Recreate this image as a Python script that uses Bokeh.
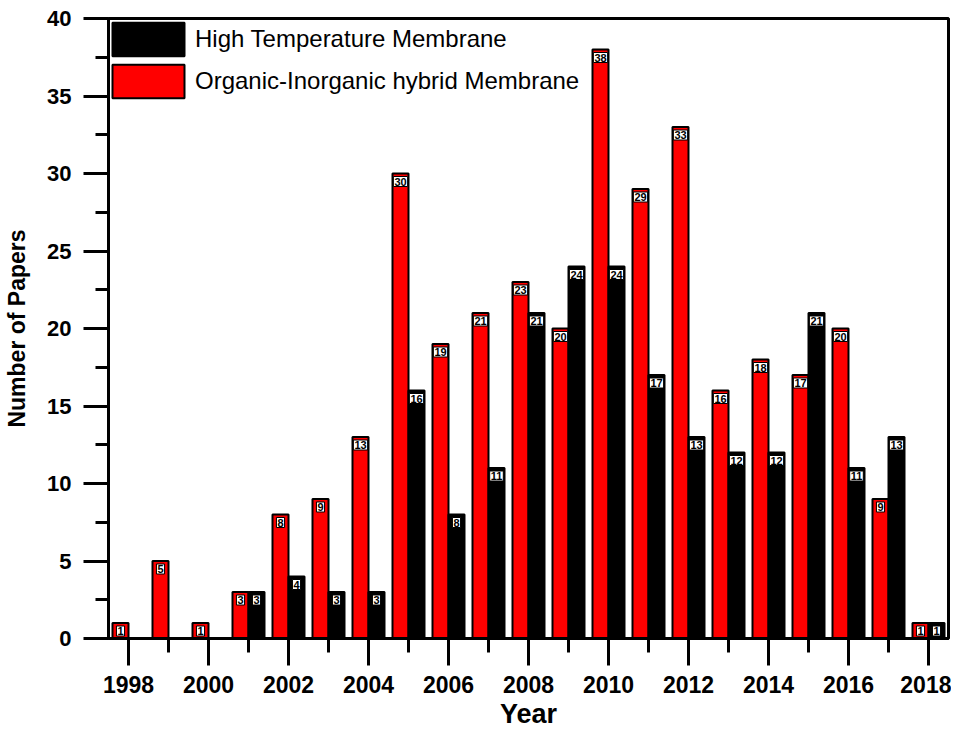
from bokeh.plotting import figure
from bokeh.models import ColumnDataSource, Range1d, SingleIntervalTicker, Legend, LegendItem
from bokeh.core.properties import value
from bokeh.embed import file_html
from bokeh.resources import INLINE

years = list(range(1998, 2019))
organic_inorganic = [1, 5, 1, 3, 8, 9, 13, 30, 19, 21, 23, 20, 38, 29, 33, 16, 18, 17, 20, 9, 1]
high_temperature = [0, 0, 0, 3, 4, 3, 3, 16, 8, 11, 21, 24, 24, 17, 13, 12, 12, 21, 11, 13, 1]
series_names = ["High Temperature Membrane", "Organic-Inorganic hybrid Membrane"]
x_label = "Year"
y_label = "Number of Papers"

FONT = "Liberation Sans"
BAR_W = 0.4


def make_source(vals, shift):
    xs, tops, labels = [], [], []
    for yr, v in zip(years, vals):
        if v > 0:
            xs.append(yr + shift)
            tops.append(v)
            labels.append(str(v))
    return ColumnDataSource(dict(x=xs, top=tops, label=labels))


red_src = make_source(organic_inorganic, -BAR_W / 2)
black_src = make_source(high_temperature, BAR_W / 2)

p = figure(width=951, height=731, output_backend="svg", toolbar_location=None,
           x_range=Range1d(1997.5, 2018.5), y_range=Range1d(0, 40),
           min_border_left=108, min_border_right=3, min_border_top=18, min_border_bottom=92)

r_red = p.vbar(x="x", top="top", bottom=0, width=BAR_W, source=red_src,
               fill_color="#ff0000", line_color="black", line_width=2)
r_black = p.vbar(x="x", top="top", bottom=0, width=BAR_W, source=black_src,
                 fill_color="black", line_color="black", line_width=2)

for src in (red_src, black_src):
    p.text(x="x", y="top", text="label", source=src,
           text_font=value(FONT), text_font_style="bold", text_font_size="11px",
           text_color="black", text_align="center", text_baseline="top", y_offset=3,
           background_fill_color="white", border_line_color="black", border_line_width=1,
           padding=1)

legend = Legend(items=[LegendItem(label=series_names[0], renderers=[r_black]),
                       LegendItem(label=series_names[1], renderers=[r_red])],
                location=(-5, 536), padding=0, margin=0, spacing=0,
                glyph_width=90, glyph_height=42, label_standoff=2,
                label_text_font=FONT, label_text_font_size="24px", label_text_color="black",
                background_fill_alpha=0, border_line_alpha=0)
p.add_layout(legend)

p.xgrid.visible = False
p.ygrid.visible = False
p.outline_line_color = "black"
p.outline_line_width = 3
p.outline_line_alpha = 1

p.xaxis.ticker = SingleIntervalTicker(interval=2, num_minor_ticks=2)
p.yaxis.ticker = SingleIntervalTicker(interval=5, num_minor_ticks=2)

for ax in (p.xaxis[0], p.yaxis[0]):
    ax.axis_line_width = 3
    ax.major_tick_line_width = 3
    ax.minor_tick_line_width = 3
    ax.major_tick_in = 0
    ax.minor_tick_in = 0
    ax.major_label_text_font = FONT
    ax.major_label_text_font_style = "bold"
    ax.major_label_text_color = "black"
    ax.axis_label_text_font = FONT
    ax.axis_label_text_font_style = "bold"
    ax.axis_label_text_color = "black"

p.xaxis.major_tick_out = 27
p.xaxis.minor_tick_out = 14
p.xaxis.major_label_standoff = 10
p.xaxis.major_label_text_font_size = "23px"
p.xaxis.axis_label = x_label
p.xaxis.axis_label_text_font_size = "27px"
p.xaxis.axis_label_standoff = 3

p.yaxis.major_tick_out = 25
p.yaxis.minor_tick_out = 13
p.yaxis.major_label_standoff = 12
p.yaxis.major_label_text_font_size = "22px"
p.yaxis.axis_label = y_label
p.yaxis.axis_label_text_font_size = "23px"
p.yaxis.axis_label_standoff = 14

open("out.html", "w").write(file_html(p, INLINE))
